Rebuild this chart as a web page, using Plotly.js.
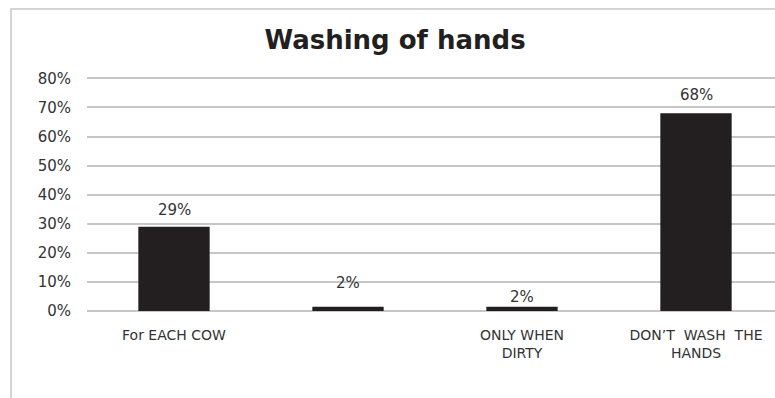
<!DOCTYPE html>
<html>
<head>
<meta charset="utf-8">
<script src="https://cdn.plot.ly/plotly-3.0.1.min.js"></script>
<style>
html,body{margin:0;padding:0;background:#fff;}
#chart{width:775px;height:398px;}
</style>
</head>
<body>
<div id="chart"></div>
<script>
// Data
var categories = ["For EACH COW", "", "ONLY WHEN<br>DIRTY", "DON\u2019T\u00a0 WASH\u00a0 THE<br>HANDS"];
var values = [0.29, 0.015, 0.015, 0.68];
var valueLabels = ["29%", "2%", "2%", "68%"];
var titleText = "Washing of hands";
var yTicks = [0, 0.1, 0.2, 0.3, 0.4, 0.5, 0.6, 0.7, 0.8];

// Styles
var labelShift = [17, 24, 10, 18];
var barColor = "#231f20";
var gridColor = "#c6c6c6";
var textColor = "#333333";
var fontFam = "DejaVu Sans, Verdana, sans-serif";

var idx = categories.map(function(_, i){ return i; });

var trace = {
  type: "bar",
  x: idx,
  y: values,
  width: 0.41,
  marker: {color: barColor},
  hoverinfo: "skip"
};

var annotations = idx.map(function(i){
  return {
    x: i, y: values[i], xref: "x", yref: "y",
    text: valueLabels[i], showarrow: false,
    yanchor: "middle", xanchor: "center", yshift: labelShift[i],
    font: {family: fontFam, size: 15, color: textColor}
  };
});

var layout = {
  width: 775, height: 398,
  margin: {l: 87, r: 0, t: 74, b: 87},
  paper_bgcolor: "#fff", plot_bgcolor: "#fff",
  showlegend: false,
  title: {
    text: "<b>" + titleText + "</b>",
    x: 395/775, xanchor: "center", xref: "container",
    y: 1 - 40/398, yanchor: "middle", yref: "container",
    font: {family: fontFam, size: 26, color: "#231f20"}
  },
  xaxis: {
    type: "linear",
    range: [-0.5, 3.454],
    tickvals: idx, ticktext: categories,
    showgrid: false, zeroline: false, showline: false,
    ticks: "", ticklabelstandoff: 14,
    tickfont: {family: fontFam, size: 14, color: textColor},
    fixedrange: true
  },
  yaxis: {
    range: [0, 0.815],
    tickmode: "array", tickvals: yTicks,
    tickformat: ".0%",
    showgrid: true, gridcolor: gridColor, gridwidth: 2,
    zeroline: true, zerolinecolor: gridColor, zerolinewidth: 2,
    showline: false, ticks: "", ticklabelstandoff: 15,
    tickfont: {family: fontFam, size: 15, color: textColor},
    fixedrange: true
  },
  annotations: annotations,
  shapes: [{
    type: "rect", xref: "paper", yref: "paper",
    x0: (11 - 87) / 688, x1: 1.1,
    y0: (311 - 420) / 237, y1: (311 - 9) / 237,
    line: {color: "#c6c6c6", width: 1.5},
    fillcolor: "rgba(0,0,0,0)", layer: "below"
  }]
};

Plotly.newPlot("chart", [trace], layout, {displayModeBar: false, staticPlot: true});
</script>
</body>
</html>
